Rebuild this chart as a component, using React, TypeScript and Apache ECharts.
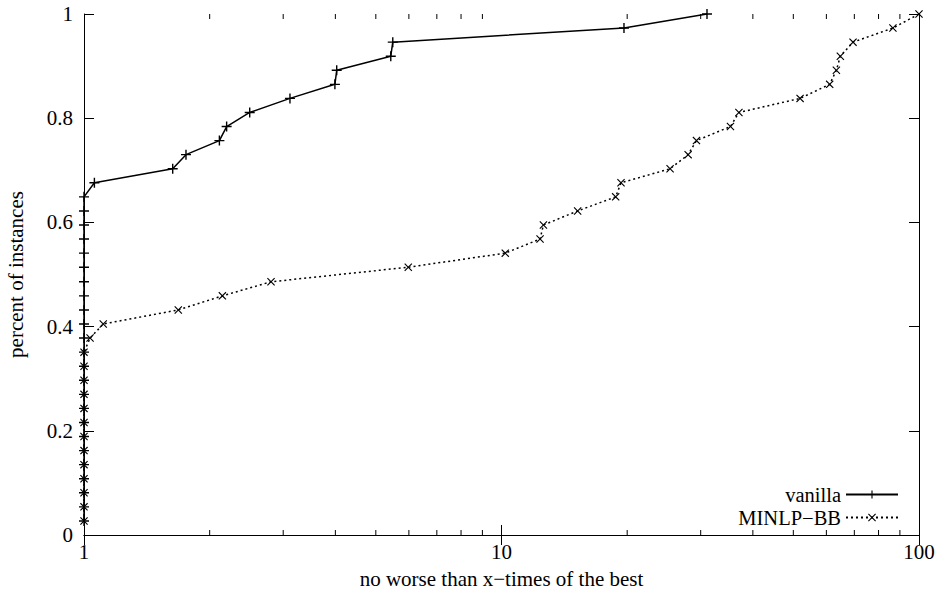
import React, { useEffect, useRef } from "react";
import * as echarts from "echarts";

// share of instances (k / 37) on the y axis
const instanceShare = [
  0.027, 0.054, 0.081, 0.108, 0.135, 0.162, 0.189, 0.216, 0.243, 0.27,
  0.297, 0.324, 0.351, 0.378, 0.405, 0.432, 0.459, 0.486, 0.514, 0.541,
  0.568, 0.595, 0.622, 0.649, 0.676, 0.703, 0.73, 0.757, 0.784, 0.811,
  0.838, 0.865, 0.892, 0.919, 0.946, 0.973, 1,
];

// performance ratios (x) for each solver, sorted
const vanillaRatio = [
  1, 1, 1, 1, 1, 1, 1, 1, 1, 1, 1, 1, 1, 1, 1, 1, 1, 1, 1, 1, 1, 1, 1, 1,
  1.059, 1.631, 1.755, 2.11, 2.196, 2.494, 3.114, 3.99, 4.03, 5.43, 5.49,
  19.65, 31.06,
];

const minlpRatio = [
  1, 1, 1, 1, 1, 1, 1, 1, 1, 1, 1, 1, 1,
  1.034, 1.112, 1.682, 2.145, 2.805, 5.98, 10.21, 12.37, 12.6, 15.22, 18.77,
  19.33, 25.34, 27.99, 29.31, 35.35, 37.04, 51.9, 61.1, 63.4, 64.8, 69.5,
  86.6, 100,
];

const seriesNames = ["vanilla", "MINLP\u2212BB"];
const xTickLabels = [1, 10, 100];
const minorTickValues = [2, 3, 4, 5, 6, 7, 8, 9, 20, 30, 40, 50, 60, 70, 80, 90];

const FONT = "'Liberation Serif', 'Times New Roman', serif";

const PLUS =
  "path://M4.3,0h1.4v4.3h4.3v1.4h-4.3v4.3h-1.4v-4.3h-4.3v-1.4h4.3z";
const CROSS =
  "path://M0,1L1,0L5,4L9,0L10,1L6,5L10,9L9,10L5,6L1,10L0,9L4,5z";

export default function App() {
  const ref = useRef<HTMLDivElement>(null);

  useEffect(() => {
    if (!ref.current) return;
    const chart = echarts.init(ref.current, undefined, { renderer: "svg" });

    const pair = (xs: number[]) => xs.map((x, i) => [x, instanceShare[i]]);

    const axisLine = { show: true, lineStyle: { color: "#000", width: 1 } };
    const majorTick = { show: true, inside: true, length: 10, lineStyle: { color: "#000" } };

    chart.setOption({
      animation: false,
      backgroundColor: "#fff",
      textStyle: { fontFamily: FONT },
      grid: {
        left: 84,
        right: 22,
        top: 14,
        bottom: 58,
        containLabel: false,
        outerBoundsMode: "none",
      },
      legend: {
        data: seriesNames,
        orient: "vertical",
        align: "right",
        right: 42,
        top: 484,
        padding: 0,
        itemWidth: 52,
        itemHeight: 10,
        itemGap: 2,
        textStyle: { fontFamily: FONT, fontSize: 20.5, color: "#000", lineHeight: 21 },
      },
      xAxis: [
        {
          type: "log",
          logBase: 10,
          min: 1,
          max: 100,
          interval: 1,
          position: "bottom",
          axisLine,
          axisTick: majorTick,
          axisLabel: {
            color: "#000",
            fontSize: 21,
            fontFamily: FONT,
            margin: 6,
            formatter: (v: number) =>
              xTickLabels.includes(Math.round(v)) ? String(Math.round(v)) : "",
          },
          splitLine: { show: false },
          name: "no worse than x\u2212times of the best",
          nameLocation: "middle",
          nameGap: 33,
          nameTextStyle: { color: "#000", fontSize: 21, fontFamily: FONT },
        },
        {
          type: "log",
          logBase: 10,
          min: 1,
          max: 100,
          interval: 1,
          position: "top",
          axisLine,
          axisTick: majorTick,
          axisLabel: { show: false },
          splitLine: { show: false },
        },
      ],
      yAxis: [
        {
          type: "value",
          min: 0,
          max: 1,
          interval: 0.2,
          position: "left",
          axisLine,
          axisTick: majorTick,
          axisLabel: { color: "#000", fontSize: 21, fontFamily: FONT, margin: 11 },
          splitLine: { show: false },
          name: "percent of instances",
          nameLocation: "middle",
          nameGap: 58,
          nameTextStyle: { color: "#000", fontSize: 21, fontFamily: FONT },
        },
        {
          type: "value",
          min: 0,
          max: 1,
          interval: 0.2,
          position: "right",
          axisLine,
          axisTick: majorTick,
          axisLabel: { show: false },
          splitLine: { show: false },
        },
      ],
      series: [
        {
          name: seriesNames[0],
          type: "line",
          data: pair(vanillaRatio),
          symbol: PLUS,
          symbolSize: 10,
          showAllSymbol: true,
          itemStyle: { color: "#000" },
          lineStyle: { color: "#000", width: 1.5, type: "solid" },
          z: 3,
        },
        {
          name: seriesNames[1],
          type: "line",
          data: pair(minlpRatio),
          symbol: CROSS,
          symbolSize: 8,
          showAllSymbol: true,
          itemStyle: { color: "#000" },
          lineStyle: { color: "#000", width: 1.5, type: [2, 3] },
          z: 3,
        },
        {
          name: "minorTicks",
          type: "custom",
          data: minorTickValues.map((v) => [v, 0]),
          silent: true,
          renderItem: (_params: any, api: any) => {
            const v = api.value(0);
            const pb = api.coord([v, 0]);
            const pt = api.coord([v, 1]);
            const style = { stroke: "#000", lineWidth: 1 };
            return {
              type: "group",
              children: [
                { type: "line", shape: { x1: pb[0], y1: pb[1], x2: pb[0], y2: pb[1] - 5 }, style },
                { type: "line", shape: { x1: pt[0], y1: pt[1], x2: pt[0], y2: pt[1] + 5 }, style },
              ],
            };
          },
          z: 2,
        },
      ],
    });

    return () => chart.dispose();
  }, []);

  return (
    <div
      ref={ref}
      style={{ position: "fixed", left: 0, top: 0, width: 941, height: 593, background: "#fff" }}
    />
  );
}
